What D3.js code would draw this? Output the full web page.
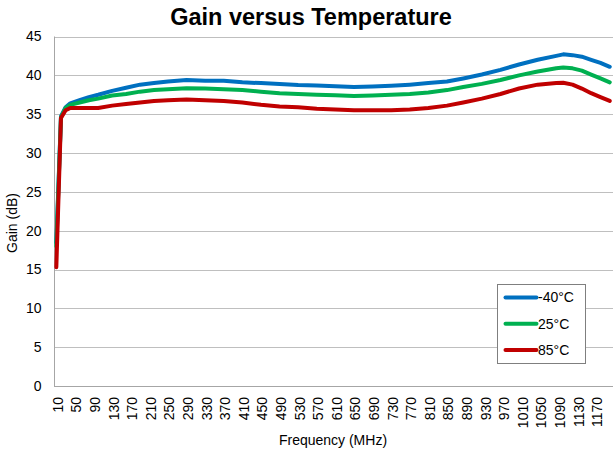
<!DOCTYPE html>
<html>
<head>
<meta charset="utf-8">
<script src="https://cdn.jsdelivr.net/npm/d3@7"></script>
<style>
  html, body { margin:0; padding:0; background:#fff; }
  svg { display:block; font-family: "Liberation Sans", Arial, sans-serif; }
</style>
</head>
<body>
<svg id="chart" width="613" height="454"></svg>
<script>
// --- Data ---
const freqs = [10,20,30,40,60,80,100,130,160,190,220,250,290,330,370,410,450,490,530,570,610,650,690,730,770,810,850,885,925,965,1005,1045,1085,1100,1120,1140,1160,1180,1200];
const gainM40 = [18.5,34.7,35.9,36.4,36.8,37.2,37.5,38.0,38.4,38.8,39.0,39.2,39.4,39.3,39.3,39.1,39.0,38.9,38.75,38.7,38.6,38.5,38.55,38.65,38.8,39.0,39.2,39.6,40.1,40.7,41.4,42.0,42.5,42.7,42.6,42.4,42.0,41.6,41.1];
const gain25  = [18.0,34.6,35.8,36.2,36.5,36.8,37.0,37.4,37.6,37.9,38.1,38.2,38.35,38.3,38.2,38.1,37.9,37.7,37.6,37.5,37.45,37.35,37.4,37.5,37.6,37.8,38.1,38.5,38.9,39.4,40.0,40.5,40.9,41.0,40.9,40.6,40.1,39.6,39.1];
const gain85  = [15.3,34.5,35.5,35.8,35.8,35.8,35.8,36.1,36.3,36.5,36.7,36.8,36.9,36.8,36.7,36.5,36.2,36.0,35.9,35.7,35.6,35.5,35.5,35.5,35.6,35.8,36.1,36.5,37.0,37.6,38.3,38.8,39.0,39.05,38.8,38.3,37.7,37.2,36.7];
const xTicks = [10,50,90,130,170,210,250,290,330,370,410,450,490,530,570,610,650,690,730,770,810,850,890,930,970,1010,1050,1090,1130,1170];
const yTicks = [0,5,10,15,20,25,30,35,40,45];

const series = [
  { name: "-40°C", values: gainM40, color: "#0070C0" },
  { name: "25°C",  values: gain25,  color: "#00B050" },
  { name: "85°C",  values: gain85,  color: "#C00000" }
];

// --- Layout ---
const svg = d3.select("#chart");
const L = 54, R = 613, T = 36.5, B = 386;

const x = d3.scaleLinear().domain([5, 1207]).range([L, R]);
const y = d3.scaleLinear().domain([0, 45]).range([B, T]);

// gridlines
svg.append("g").selectAll("line").data(yTicks.filter(d => d > 0)).join("line")
  .attr("x1", L).attr("x2", R)
  .attr("y1", d => Math.round(y(d)) + 0.5).attr("y2", d => Math.round(y(d)) + 0.5)
  .attr("stroke", "#BFBFBF").attr("stroke-width", 1);

// axis lines
svg.append("line").attr("x1", L + 0.5).attr("x2", L + 0.5).attr("y1", T).attr("y2", B)
  .attr("stroke", "#A6A6A6");
svg.append("line").attr("x1", L).attr("x2", R).attr("y1", B + 0.5).attr("y2", B + 0.5)
  .attr("stroke", "#A6A6A6");

// y tick labels
svg.append("g").selectAll("text").data(yTicks).join("text")
  .attr("x", 41.5).attr("y", d => y(d)).attr("dy", "0.35em")
  .attr("text-anchor", "end").attr("font-size", 14).attr("fill", "#000")
  .text(d => d);

// x tick labels (rotated)
svg.append("g").selectAll("text").data(xTicks).join("text")
  .attr("transform", d => `translate(${x(d) + 1.5},397) rotate(-90)`)
  .attr("text-anchor", "end").attr("dy", "0.35em")
  .attr("font-size", 14).attr("fill", "#000")
  .text(d => d);

// lines
const line = d3.line().x((d, i) => x(freqs[i])).y(d => y(d));
svg.append("g").selectAll("path").data(series).join("path")
  .attr("d", d => line(d.values))
  .attr("fill", "none").attr("stroke", d => d.color)
  .attr("stroke-width", 4).attr("stroke-linejoin", "round").attr("stroke-linecap", "round");

// titles
svg.append("text").attr("x", 311).attr("y", 25).attr("text-anchor", "middle")
  .attr("font-size", 23.5).attr("font-weight", "bold").text("Gain versus Temperature");
svg.append("text").attr("x", 333).attr("y", 445).attr("text-anchor", "middle")
  .attr("font-size", 14).text("Frequency (MHz)");
svg.append("text").attr("transform", "translate(17,223) rotate(-90)").attr("text-anchor", "middle")
  .attr("font-size", 14).text("Gain (dB)");

// legend
const lg = svg.append("g").attr("transform", "translate(497.5,284.5)");
lg.append("rect").attr("width", 88).attr("height", 79)
  .attr("fill", "#fff").attr("stroke", "#7F7F7F");
const items = lg.selectAll("g.item").data(series).join("g").attr("class", "item")
  .attr("transform", (d, i) => `translate(0,${13 + i * 26.3})`);
items.append("line").attr("x1", 8).attr("x2", 39).attr("y1", 0).attr("y2", 0)
  .attr("stroke", d => d.color).attr("stroke-width", 4).attr("stroke-linecap", "round");
items.append("text").attr("x", 40.5).attr("dy", "0.35em").attr("font-size", 14)
  .text(d => d.name);
</script>
</body>
</html>
